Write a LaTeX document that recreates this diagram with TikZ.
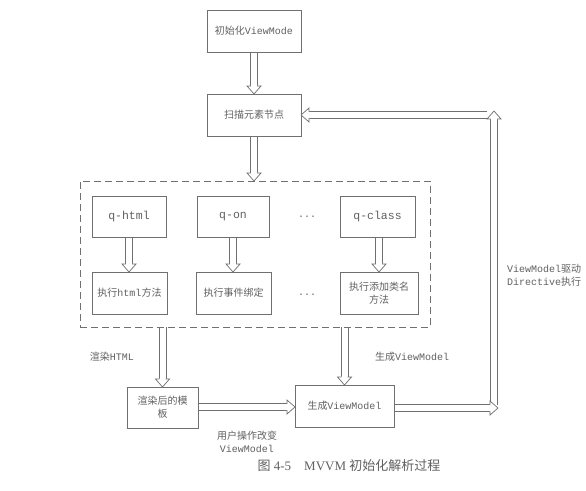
\documentclass[tikz,border=0pt]{standalone}
\usepackage{fontspec}
\setmainfont{Liberation Serif}
\newfontfamily\zhfont{Noto Sans CJK SC}
\newfontfamily\monofont{Liberation Mono}
\usetikzlibrary{decorations.markings}
\definecolor{lc}{HTML}{707070}
\definecolor{tc}{HTML}{606060}
\newcommand\zhc[1]{{\zhfont #1}}
\newcommand\enm[1]{{\monofont #1}}
\tikzset{
  every node/.style={text=tc, outer sep=0pt, inner sep=1pt, font=\fontsize{10}{13}\selectfont},
  box/.style={draw=lc, line width=0.7pt, align=center},
  dashbox/.style={draw=lc, line width=0.7pt, dash pattern=on 7pt off 4pt},
  hollow/.style={
    postaction={decorate, decoration={markings, mark=at position 1 with {
      \pgfmathsetmacro\arrlen{\pgfdecoratedpathlength}
      \draw[lc, line width=0.7pt] (-\arrlen pt,3.5pt) -- (-8pt,3.5pt)
                                  (-\arrlen pt,-3.5pt) -- (-8pt,-3.5pt);
      \draw[lc, line width=0.7pt, fill=white, line join=miter]
        (-8.4pt,3.5pt) -- (-8pt,3.5pt) -- (-8pt,7pt) -- (0pt,0pt) -- (-8pt,-7pt) -- (-8pt,-3.5pt) -- (-8.4pt,-3.5pt);}}}
  },
  lbl/.style={align=center, inner sep=0pt}
}
\begin{document}
\begin{tikzpicture}[x=1pt,y=-1pt]
\useasboundingbox[fill=white] (0,0) rectangle (586,490);

\coordinate (c1) at (498,408);
\coordinate (c2) at (494,404.5);
\coordinate (c3) at (494,111);
\coordinate (c4) at (487,115);

\node[box, minimum width=94pt, minimum height=42pt] (init) at (254,31) {\zhc{初始化}\enm{ViewMode}};
\node[box, minimum width=94pt, minimum height=42pt] (scan) at (254,115) {\zhc{扫描元素节点}};

\node[dashbox, minimum width=350pt, minimum height=146pt] (group) at (255,254) {};

\node[box, minimum width=74pt, minimum height=41pt, font=\fontsize{11.5}{13}\selectfont] (qhtml) at (129,216.5) {\enm{q-html}};
\node[box, minimum width=72pt, minimum height=41pt, font=\fontsize{11.5}{13}\selectfont] (qon) at (233,216.5) {\enm{q-on}};
\node[box, minimum width=75pt, minimum height=41pt, font=\fontsize{11.5}{13}\selectfont] (qclass) at (377.5,216.5) {\enm{q-class}};
\node (dots1) at (307,217) {\enm{...}};

\node[box, minimum width=75pt, minimum height=42pt] (exhtml) at (129.5,293) {\zhc{执行}\enm{html}\zhc{方法}};
\node[box, minimum width=75pt, minimum height=42pt] (exon) at (233.5,293) {\zhc{执行事件绑定}};
\node[box, minimum width=78pt, minimum height=42pt] (excls) at (379,293) {\zhc{执行添加类名}\\\zhc{方法}};
\node (dots2) at (307,295) {\enm{...}};

\node[box, minimum width=71pt, minimum height=41pt] (render) at (162.5,407.5) {\zhc{渲染后的模}\\\zhc{板}};
\node[box, minimum width=99pt, minimum height=42pt] (gen) at (344.5,406) {\zhc{生成}\enm{ViewModel}};

\path[hollow] (init.south) -- (scan.north);
\path[hollow] (scan.south) -- (scan.south |- group.north);
\path[hollow] (qhtml.south) -- (exhtml.north -| qhtml.south);
\path[hollow] (qon.south) -- (exon.north -| qon.south);
\path[hollow] (excls.north |- qclass.south) -- (excls.north);
\path[hollow] (group.south -| render.north) -- (render.north);
\path[hollow] (group.south -| gen.north) -- (gen.north);
\path[hollow] (render.east |- 0,407) -- (gen.west |- 0,407);
\path[hollow] (c4) -- (scan.east);
\path[hollow] (c2) -- (c3);
\path[hollow] (gen.east |- c1) -- (c1);

\node[lbl] (l1) at (112,357) {\zhc{渲染}\enm{HTML}};
\node[lbl] (l2) at (412,357) {\zhc{生成}\enm{ViewModel}};
\node[lbl] (l3) at (247,442) {\zhc{用户操作改变}\\\enm{ViewModel}};
\node[lbl, align=left, anchor=west] (l4) at (507,275) {\enm{ViewModel}\zhc{驱动}\\\enm{Directive}\zhc{执行}};

\node[lbl, font=\fontsize{13}{15}\selectfont] (cap) at (349,466) {\zhc{图}~4-5\quad MVVM~\zhc{初始化解析过程}};
\end{tikzpicture}
\end{document}
